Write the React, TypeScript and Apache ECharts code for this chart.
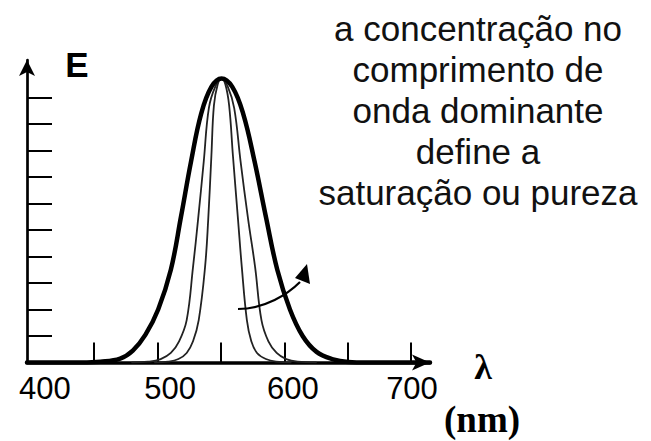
import React, { useEffect, useRef } from "react";
import * as echarts from "echarts";

// wavelength (nm) / relative energy for the three spectral curves
const wideX = [397, 440, 455, 470.5, 480.5, 490.5, 500.5, 510.5, 518.5, 526.5, 534.5, 542.5, 550.5, 559, 567.5, 576.5, 585.5, 594.5, 604.5, 614.5, 625.5, 638.5, 650.5, 665, 715];
const wideY = [0, 0, 0.03, 0.15, 0.45, 1.05, 2.0, 3.5, 5.5, 7.6, 9.4, 10.4, 10.72, 10.4, 9.4, 7.6, 5.5, 3.5, 2.0, 1.0, 0.4, 0.12, 0.02, 0, 0];

const midX = [480, 492.5, 502.5, 510.5, 517, 523, 528, 532, 536.5, 540.5, 545.5, 550.5, 555.5, 560.5, 565.5, 571.5, 577, 582, 587.5, 594, 601.5, 610.5, 625];
const midY = [0, 0.03, 0.13, 0.36, 0.8, 1.6, 3.6, 5.4, 7.6, 9.6, 10.4, 10.72, 10.4, 9.6, 7.6, 5.4, 3.6, 1.6, 0.8, 0.36, 0.13, 0.03, 0];

const narrowX = [498, 508.5, 516.5, 523, 528, 532.5, 537.5, 540, 542.5, 544.5, 547.5, 550.5, 553.5, 556.5, 559.5, 563.5, 566.5, 570.5, 574, 578.5, 585.5, 593.5, 605];
const narrowY = [0, 0.03, 0.13, 0.36, 0.8, 1.6, 3.6, 5.4, 7.8, 9.7, 10.5, 10.72, 10.5, 9.7, 7.8, 5.4, 3.6, 1.6, 0.8, 0.36, 0.13, 0.03, 0];

const xTickValues = [450, 500, 550, 600, 650, 700];
const xLabelValues = [400, 500, 600, 700];
const yTickValues = [1, 2, 3, 4, 5, 6, 7, 8, 9, 10];

const yAxisName = "E";
const xAxisSymbol = "λ";
const xAxisUnit = "(nm)";
const caption = "a concentração no\ncomprimento de\nonda dominante\ndefine a\nsaturação ou pureza";

// label nudges (px of left padding) to follow the hand-placed labels
const labelPad: Record<number, number> = { 400: 28, 500: 25, 600: 17, 700: 2 };

const zip = (xs: number[], ys: number[]) => xs.map((x, i) => [x, ys[i]]);

export default function App() {
  const ref = useRef<HTMLDivElement>(null);
  useEffect(() => {
    if (!ref.current) return;
    const chart = echarts.init(ref.current, null, { renderer: "svg" });
    const labelFont = { fontSize: 31, fontFamily: "Liberation Sans, Arial, sans-serif", color: "#000" };
    const rich: Record<string, any> = {};
    xLabelValues.forEach((v) => {
      rich["p" + v] = { ...labelFont, padding: [0, 0, 0, labelPad[v] || 0] };
    });
    const curve = (xs: number[], ys: number[], color: string, width: number, z: number) => ({
      type: "line",
      data: zip(xs, ys),
      symbol: "none",
      smooth: 0.4,
      lineStyle: { color, width, cap: "round", join: "round" },
      z,
    });
    chart.setOption({
      animation: false,
      backgroundColor: "#fff",
      grid: { left: 27, right: 221, top: 60, bottom: 78.5, containLabel: false },
      xAxis: {
        type: "value",
        min: 397,
        max: 715,
        axisLine: {
          show: true,
          onZero: false,
          symbol: ["none", "arrow"],
          symbolSize: [12, 18],
          lineStyle: { color: "#000", width: 3.5 },
        },
        axisTick: {
          show: true,
          inside: true,
          length: 20,
          customValues: xTickValues,
          lineStyle: { color: "#000", width: 2 },
        },
        axisLabel: {
          show: true,
          customValues: xLabelValues,
          margin: 10,
          ...labelFont,
          formatter: (v: number) => `{p${v}|${v}}`,
          rich,
        },
        splitLine: { show: false },
      },
      yAxis: {
        type: "value",
        min: 0,
        max: 11.415,
        axisLine: {
          show: true,
          onZero: false,
          symbol: ["none", "arrow"],
          symbolSize: [12, 16],
          lineStyle: { color: "#000", width: 2.7 },
        },
        axisTick: {
          show: true,
          inside: true,
          length: 25,
          customValues: yTickValues,
          lineStyle: { color: "#000", width: 2 },
        },
        axisLabel: { show: false },
        splitLine: { show: false },
      },
      series: [
        curve(narrowX, narrowY, "#222", 1.8, 3),
        curve(midX, midY, "#222", 1.8, 3),
        curve(wideX, wideY, "#000", 4.5, 4),
      ],
      graphic: [
        {
          type: "text",
          x: 77,
          y: 64.5,
          style: {
            text: yAxisName,
            fontSize: 35,
            fontWeight: "bold",
            fontFamily: "Liberation Sans, Arial, sans-serif",
            fill: "#000",
            align: "center",
            verticalAlign: "middle",
          },
        },
        {
          type: "text",
          x: 483,
          y: 367,
          style: {
            text: xAxisSymbol,
            fontSize: 36,
            fontWeight: "bold",
            fontFamily: "Liberation Serif, Times New Roman, serif",
            fill: "#000",
            align: "center",
            verticalAlign: "middle",
          },
        },
        {
          type: "text",
          x: 482,
          y: 419,
          style: {
            text: xAxisUnit,
            fontSize: 37,
            fontWeight: "bold",
            fontFamily: "Liberation Serif, Times New Roman, serif",
            fill: "#000",
            align: "center",
            verticalAlign: "middle",
          },
        },
        {
          type: "text",
          x: 478,
          y: 110,
          style: {
            text: caption,
            fontSize: 35,
            lineHeight: 41,
            fontFamily: "Liberation Sans, Arial, sans-serif",
            fill: "#111",
            align: "center",
            verticalAlign: "middle",
          },
        },
        {
          type: "bezierCurve",
          shape: { x1: 238, y1: 309, x2: 300, y2: 282, cpx1: 265, cpy1: 309, cpx2: 288, cpy2: 294 },
          style: { stroke: "#000", lineWidth: 2.2, fill: "none" },
          z: 10,
        },
        {
          type: "polygon",
          shape: { points: [[307, 264], [295, 278], [310, 284]] },
          style: { fill: "#000" },
          z: 10,
        },
      ],
    });
    return () => chart.dispose();
  }, []);
  return <div ref={ref} style={{ width: 651, height: 441, position: "absolute", left: 0, top: 0 }} />;
}
